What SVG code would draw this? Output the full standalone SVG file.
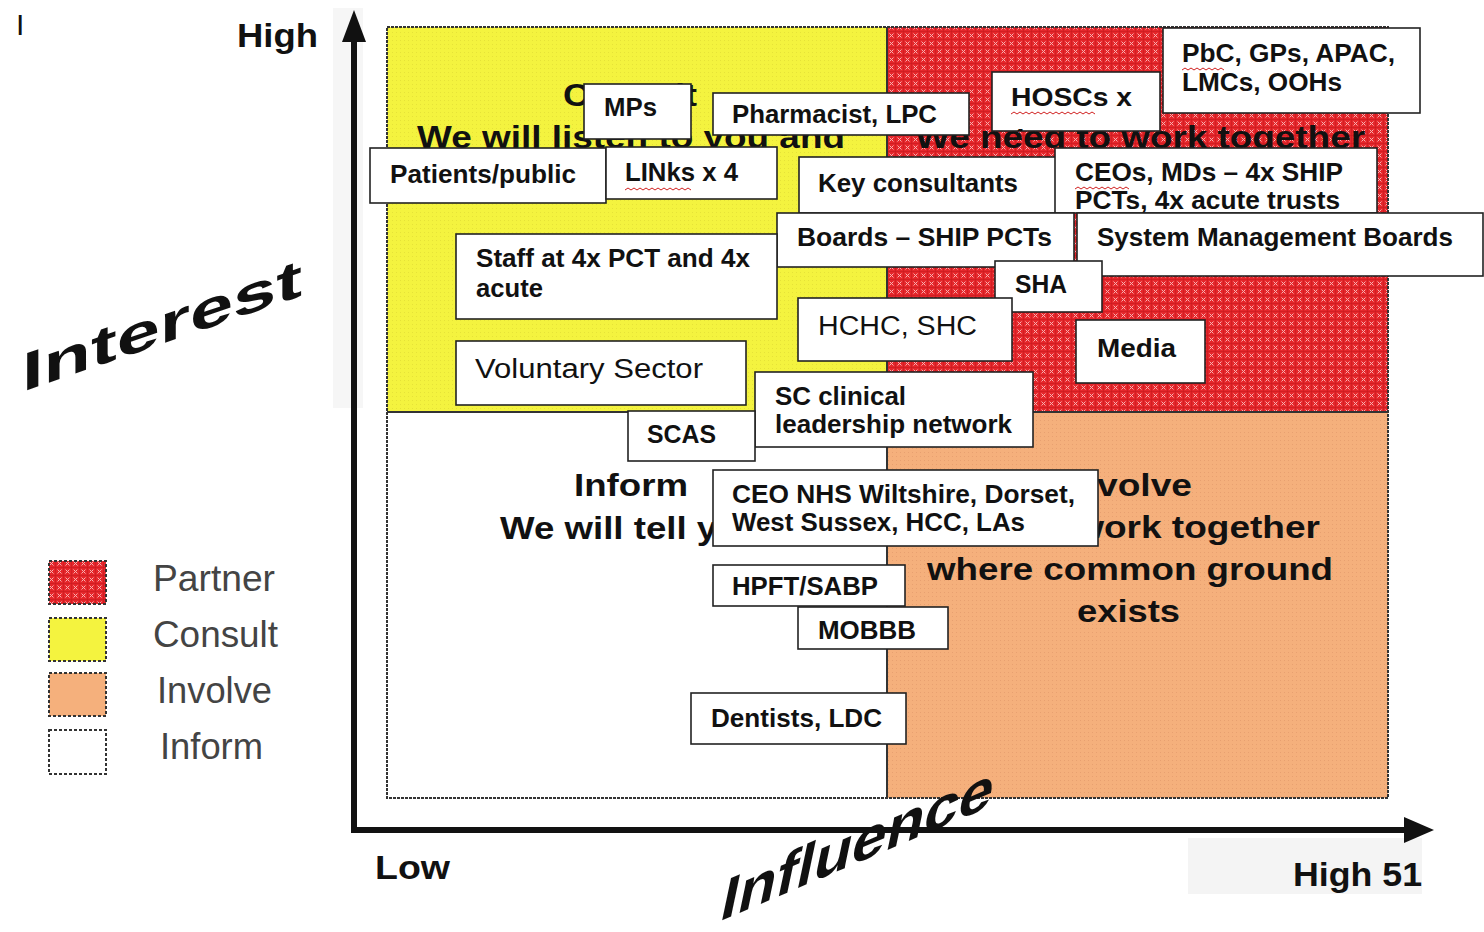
<svg xmlns="http://www.w3.org/2000/svg" width="1484" height="932" viewBox="0 0 1484 932">
<defs>
<pattern id="redpat" width="8" height="8" patternUnits="userSpaceOnUse">
<rect width="8" height="8" fill="#e5262b"/>
<path d="M1.5,1.5 L5.5,5.5 M5.5,1.5 L1.5,5.5" stroke="#f8b0b0" stroke-width="1"/>
<path d="M0,7.5 H8 M7.5,0 V8" stroke="#c81a1f" stroke-width="0.6"/>
</pattern>
<pattern id="yelpat" width="4" height="4" patternUnits="userSpaceOnUse">
<rect width="4" height="4" fill="#f4f33f"/>
<rect x="0" y="0" width="1" height="1" fill="#e6e238"/>
</pattern>
<pattern id="orgpat" width="4" height="4" patternUnits="userSpaceOnUse">
<rect width="4" height="4" fill="#f5b07c"/>
<rect x="0" y="0" width="1" height="1" fill="#e8a070"/>
</pattern>
<clipPath id="hoscClip"><rect x="992" y="72" width="168" height="59"/></clipPath>
<clipPath id="ceoClip"><rect x="1055" y="148" width="322" height="65"/></clipPath>
</defs>
<style>
.box{fill:#ffffff;stroke:#222;stroke-width:1.6}
.bt{font-family:"Liberation Sans",Arial,sans-serif;font-weight:bold;font-size:25px;fill:#111}
.rt{font-family:"Liberation Sans",Arial,sans-serif;font-weight:normal;font-size:27px;fill:#111}
.qt{font-family:"Liberation Sans",Arial,sans-serif;font-weight:bold;font-size:31px;fill:#111}
.lg{font-family:"Liberation Sans",Arial,sans-serif;font-size:36px;fill:#444}
.ax{font-family:"Liberation Sans",Arial,sans-serif;font-weight:bold;font-size:34px;fill:#111}
.wa{font-family:"Liberation Sans",Arial,sans-serif;font-weight:bold;fill:#111}
.sq{fill:none;stroke:#d02020;stroke-width:1}
.leg{stroke:#333;stroke-width:2;stroke-dasharray:3 2}
</style>
<rect width="1484" height="932" fill="#ffffff"/>
<rect x="333" y="8" width="30" height="400" fill="#f6f6f6"/>
<rect x="1188" y="838" width="234" height="56" fill="#f4f4f4"/>

<!-- quadrants -->
<g id="quadrants">
<rect x="387" y="27" width="500" height="385" fill="url(#yelpat)"/>
<rect x="887" y="27" width="501" height="385" fill="url(#redpat)"/>
<rect x="387" y="412" width="500" height="386" fill="#ffffff"/>
<rect x="887" y="412" width="501" height="386" fill="url(#orgpat)"/>
<rect x="387" y="27" width="1001" height="771" fill="none" stroke="#333" stroke-width="2" stroke-dasharray="3 1"/>
<line x1="887" y1="27" x2="887" y2="798" stroke="#333" stroke-width="2"/>
<line x1="387" y1="412" x2="1388" y2="412" stroke="#333" stroke-width="2"/>
</g>

<!-- quadrant captions -->
<g id="quadrant-text">
<text class="qt" x="563" y="106" textLength="134" lengthAdjust="spacingAndGlyphs">Consult</text>
<text class="qt" x="417" y="148" textLength="428" lengthAdjust="spacingAndGlyphs">We will listen to you and</text>
<text class="qt" x="915" y="148" textLength="450" lengthAdjust="spacingAndGlyphs">We need to work together</text>
<text class="qt" x="574" y="496" textLength="114" lengthAdjust="spacingAndGlyphs">Inform</text>
<text class="qt" x="500" y="539" textLength="262" lengthAdjust="spacingAndGlyphs">We will tell you</text>
<text class="qt" x="1064" y="496" textLength="128" lengthAdjust="spacingAndGlyphs">Involve</text>
<text class="qt" x="940" y="538" textLength="380" lengthAdjust="spacingAndGlyphs">We will work together</text>
<text class="qt" x="927" y="580" textLength="406" lengthAdjust="spacingAndGlyphs">where common ground</text>
<text class="qt" x="1077" y="622" textLength="103" lengthAdjust="spacingAndGlyphs">exists</text>
</g>

<!-- axes -->
<g id="axes">
<line x1="354" y1="36" x2="354" y2="833" stroke="#111" stroke-width="6"/>
<polygon points="354,10 342,42 366,42" fill="#111"/>
<line x1="351" y1="830" x2="1410" y2="830" stroke="#111" stroke-width="6"/>
<polygon points="1434,830 1404,817 1404,843" fill="#111"/>
<text class="ax" x="237" y="47" textLength="81" lengthAdjust="spacingAndGlyphs">High</text>
<text class="ax" x="375" y="879" textLength="75" lengthAdjust="spacingAndGlyphs">Low</text>
<text class="ax" x="1293" y="886" textLength="129" lengthAdjust="spacingAndGlyphs">High 51</text>
<text class="wa" font-size="54" transform="translate(22,392) skewY(-19)" x="0" y="0" textLength="280" lengthAdjust="spacingAndGlyphs">Interest</text>
<text class="wa" font-size="56" transform="translate(718,922) skewY(-23) skewX(-13)" x="0" y="0" textLength="272" lengthAdjust="spacingAndGlyphs">Influence</text>
<text x="16" y="35" font-family="Liberation Sans, Arial, sans-serif" font-size="30" fill="#111">I</text>
</g>

<!-- legend -->
<g id="legend">
<rect class="leg" x="49" y="561" width="57" height="43" fill="url(#redpat)"/>
<rect class="leg" x="49" y="618" width="57" height="43" fill="#f4f33f"/>
<rect class="leg" x="49" y="673" width="57" height="43" fill="#f5b07c"/>
<rect class="leg" x="49" y="730" width="57" height="44" fill="#ffffff"/>
<text class="lg" x="153" y="591" textLength="122" lengthAdjust="spacingAndGlyphs">Partner</text>
<text class="lg" x="153" y="647" textLength="125" lengthAdjust="spacingAndGlyphs">Consult</text>
<text class="lg" x="157" y="703" textLength="115" lengthAdjust="spacingAndGlyphs">Involve</text>
<text class="lg" x="160" y="759" textLength="103" lengthAdjust="spacingAndGlyphs">Inform</text>
</g>

<!-- stakeholder boxes -->
<g id="n-mps"><rect class="box" x="584" y="84" width="107" height="55"/><text class="bt" x="604" y="116" textLength="53" lengthAdjust="spacingAndGlyphs">MPs</text></g>
<g id="n-pharm"><rect class="box" x="713" y="93" width="256" height="42"/><text class="bt" x="732" y="123" textLength="205" lengthAdjust="spacingAndGlyphs">Pharmacist, LPC</text></g>
<g id="n-hoscs"><rect class="box" x="992" y="72" width="168" height="59"/><g clip-path="url(#hoscClip)"><text class="bt" x="1011" y="106" textLength="121" lengthAdjust="spacingAndGlyphs">HOSCs x</text><text class="bt" x="1011" y="147">4</text></g><path class="sq" d="M1011,114 l3,-2 l3,2 l3,-2 l3,2 l3,-2 l3,2 l3,-2 l3,2 l3,-2 l3,2 l3,-2 l3,2 l3,-2 l3,2 l3,-2 l3,2 l3,-2 l3,2 l3,-2 l3,2 l3,-2 l3,2 l3,-2 l3,2 l3,-2 l3,2 l3,-2 l3,2"/></g>
<g id="n-pbc"><rect class="box" x="1163" y="28" width="257" height="85"/><text class="bt" x="1182" y="62" textLength="213" lengthAdjust="spacingAndGlyphs">PbC, GPs, APAC,</text><text class="bt" x="1182" y="91" textLength="160" lengthAdjust="spacingAndGlyphs">LMCs, OOHs</text><path class="sq" d="M1182,70 l3,-2 l3,2 l3,-2 l3,2 l3,-2 l3,2 l3,-2 l3,2 l3,-2 l3,2 l3,-2 l3,2 l3,-2 l3,2"/></g>
<g id="n-patients"><rect class="box" x="370" y="148" width="236" height="55"/><text class="bt" x="390" y="183" textLength="186" lengthAdjust="spacingAndGlyphs">Patients/public</text></g>
<g id="n-links"><rect class="box" x="606" y="147" width="171" height="52"/><text class="bt" x="625" y="181" textLength="113" lengthAdjust="spacingAndGlyphs">LINks x 4</text><path class="sq" d="M625,190 l3,-2 l3,2 l3,-2 l3,2 l3,-2 l3,2 l3,-2 l3,2 l3,-2 l3,2 l3,-2 l3,2 l3,-2 l3,2 l3,-2 l3,2 l3,-2 l3,2 l3,-2 l3,2 l3,-2 l3,2"/></g>
<g id="n-keycons"><rect class="box" x="799" y="157" width="258" height="56"/><text class="bt" x="818" y="192" textLength="200" lengthAdjust="spacingAndGlyphs">Key consultants</text></g>
<g id="n-ceos"><rect class="box" x="1055" y="148" width="322" height="65"/><g clip-path="url(#ceoClip)"><text class="bt" x="1075" y="181" textLength="268" lengthAdjust="spacingAndGlyphs">CEOs, MDs – 4x SHIP</text><text class="bt" x="1075" y="209" textLength="265" lengthAdjust="spacingAndGlyphs">PCTs, 4x acute trusts</text></g><path class="sq" d="M1075,189 l3,-2 l3,2 l3,-2 l3,2 l3,-2 l3,2 l3,-2 l3,2 l3,-2 l3,2 l3,-2 l3,2 l3,-2 l3,2 l3,-2 l3,2 l3,-2 l3,2"/></g>
<g id="n-boards"><rect class="box" x="777" y="213" width="297" height="54"/><text class="bt" x="797" y="246" textLength="255" lengthAdjust="spacingAndGlyphs">Boards – SHIP PCTs</text></g>
<g id="n-sysmgmt"><rect class="box" x="1077" y="213" width="406" height="63"/><text class="bt" x="1097" y="246" textLength="356" lengthAdjust="spacingAndGlyphs">System Management Boards</text></g>
<g id="n-staff"><rect class="box" x="456" y="234" width="321" height="85"/><text class="bt" x="476" y="267" textLength="274" lengthAdjust="spacingAndGlyphs">Staff at 4x PCT and 4x</text><text class="bt" x="476" y="297" textLength="67" lengthAdjust="spacingAndGlyphs">acute</text></g>
<g id="n-sha"><rect class="box" x="995" y="261" width="107" height="51"/><text class="bt" x="1015" y="293" textLength="52" lengthAdjust="spacingAndGlyphs">SHA</text></g>
<g id="n-hchc"><rect class="box" x="798" y="298" width="214" height="63"/><text class="rt" x="818" y="335" textLength="159" lengthAdjust="spacingAndGlyphs">HCHC, SHC</text></g>
<g id="n-media"><rect class="box" x="1076" y="320" width="129" height="63"/><text class="bt" x="1097" y="357" textLength="79" lengthAdjust="spacingAndGlyphs">Media</text></g>
<g id="n-vol"><rect class="box" x="456" y="341" width="290" height="64"/><text class="rt" x="475" y="378" textLength="228" lengthAdjust="spacingAndGlyphs">Voluntary Sector</text></g>
<g id="n-scclin"><rect class="box" x="755" y="372" width="278" height="75"/><text class="bt" x="775" y="405" textLength="131" lengthAdjust="spacingAndGlyphs">SC clinical</text><text class="bt" x="775" y="433" textLength="237" lengthAdjust="spacingAndGlyphs">leadership network</text></g>
<g id="n-scas"><rect class="box" x="628" y="411" width="127" height="50"/><text class="bt" x="647" y="443" textLength="69" lengthAdjust="spacingAndGlyphs">SCAS</text></g>
<g id="n-ceonhs"><rect class="box" x="713" y="470" width="385" height="76"/><text class="bt" x="732" y="503" textLength="343" lengthAdjust="spacingAndGlyphs">CEO NHS Wiltshire, Dorset,</text><text class="bt" x="732" y="531" textLength="293" lengthAdjust="spacingAndGlyphs">West Sussex, HCC, LAs</text></g>
<g id="n-hpft"><rect class="box" x="713" y="565" width="192" height="41"/><text class="bt" x="732" y="595" textLength="146" lengthAdjust="spacingAndGlyphs">HPFT/SABP</text></g>
<g id="n-mobbb"><rect class="box" x="798" y="607" width="150" height="42"/><text class="bt" x="818" y="639" textLength="98" lengthAdjust="spacingAndGlyphs">MOBBB</text></g>
<g id="n-dentists"><rect class="box" x="691" y="693" width="215" height="51"/><text class="bt" x="711" y="727" textLength="171" lengthAdjust="spacingAndGlyphs">Dentists, LDC</text></g>

<g id="connectors"></g>
</svg>
